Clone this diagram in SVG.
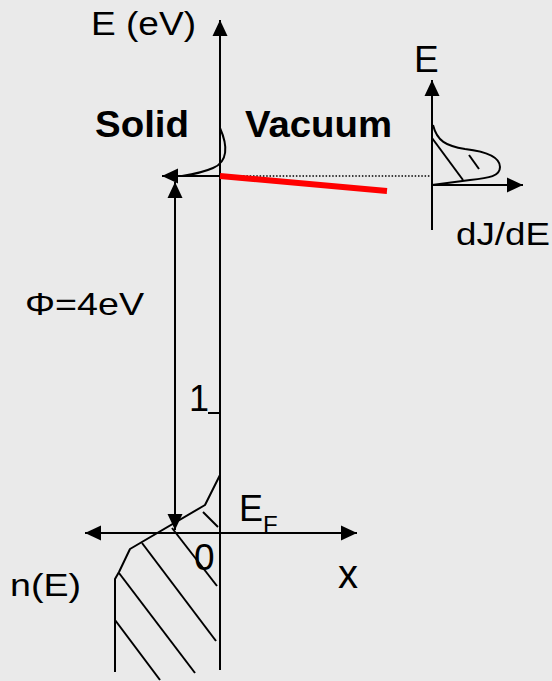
<svg xmlns="http://www.w3.org/2000/svg" width="552" height="681" viewBox="0 0 552 681">
<style>
.ln{stroke:#000;stroke-width:2;fill:none;stroke-linejoin:round}
.ar{stroke:#000;stroke-width:2;fill:none;marker-end:url(#ah)}
.t{font-family:"Liberation Sans",Arial,sans-serif;fill:#000}
.b{font-family:"Liberation Sans",Arial,sans-serif;font-weight:bold;fill:#000}
</style>
<defs>
<marker id="ah" viewBox="0 0 16 16" refX="16" refY="8" markerWidth="16" markerHeight="16" markerUnits="userSpaceOnUse" orient="auto-start-reverse">
<path d="M0,0.5 L16,8 L0,15.5 z" fill="#000"/>
</marker>
</defs>
<rect width="552" height="681" fill="#eaeaea"/>
<g id="connectors">
<line class="ar" x1="220" y1="670" x2="220" y2="20"/>
<line class="ar" x1="85" y1="533" x2="357" y2="533" style="marker-start:url(#ah)"/>
<line class="ar" x1="175" y1="182" x2="175" y2="530" style="marker-start:url(#ah)"/>
<line class="ar" x1="220" y1="176" x2="162" y2="176"/>
<line x1="220" y1="176" x2="430" y2="176" stroke="#000" stroke-width="1.5" stroke-dasharray="1.5,1.8"/>
<line x1="220" y1="176" x2="387" y2="191" stroke="#ff0000" stroke-width="6"/>
<path class="ln" d="M220,128 C228,146 228,162 213,168 C204,172 195,174 182,176"/>
<line class="ln" x1="208" y1="413" x2="220" y2="413"/>
</g>
<g id="dos">
<path class="ln" d="M220,475 L205,505 L130,549 L119,572 L115,579 L115,672"/>
<line class="ln" x1="203" y1="512" x2="218" y2="527"/>
<line class="ln" x1="172" y1="528" x2="217" y2="586"/>
<line class="ln" x1="142" y1="543" x2="216" y2="641"/>
<line class="ln" x1="119" y1="573" x2="195" y2="673"/>
<line class="ln" x1="115" y1="620" x2="160" y2="680"/>
</g>
<g id="inset">
<line class="ar" x1="432" y1="230" x2="432" y2="80"/>
<line class="ar" x1="432" y1="185" x2="523" y2="185"/>
<path class="ln" d="M433,125 C437,141 446,146 465,149 C490,152 500,158 500,167 C500,176 490,178 470,180 L432,185"/>
<line class="ln" x1="432" y1="138" x2="463" y2="180"/>
<line class="ln" x1="469" y1="155" x2="479" y2="169"/>
</g>
<g id="label-E-eV"><text class="t" x="91" y="35" font-size="33" textLength="105" lengthAdjust="spacingAndGlyphs">E (eV)</text></g>
<g id="label-solid"><text class="b" x="95" y="137" font-size="36" textLength="94" lengthAdjust="spacingAndGlyphs">Solid</text></g>
<g id="label-vacuum"><text class="b" x="245" y="137" font-size="36" textLength="147" lengthAdjust="spacingAndGlyphs">Vacuum</text></g>
<g id="label-phi"><text class="t" x="25" y="315" font-size="32" textLength="119" lengthAdjust="spacingAndGlyphs">Φ=4eV</text></g>
<g id="label-1"><text class="t" x="189" y="411" font-size="36">1</text></g>
<g id="label-EF"><text class="t" x="239" y="521" font-size="36">E</text><text class="t" x="263" y="533" font-size="24">F</text></g>
<g id="label-0"><text class="t" x="194" y="570" font-size="37">0</text></g>
<g id="label-x"><text class="t" x="338" y="588" font-size="40">x</text></g>
<g id="label-nE"><text class="t" x="10" y="596" font-size="32" textLength="71" lengthAdjust="spacingAndGlyphs">n(E)</text></g>
<g id="label-E-inset"><text class="t" x="414" y="72" font-size="37">E</text></g>
<g id="label-dJdE"><text class="t" x="456" y="245" font-size="32" textLength="94" lengthAdjust="spacingAndGlyphs">dJ/dE</text></g>
</svg>
